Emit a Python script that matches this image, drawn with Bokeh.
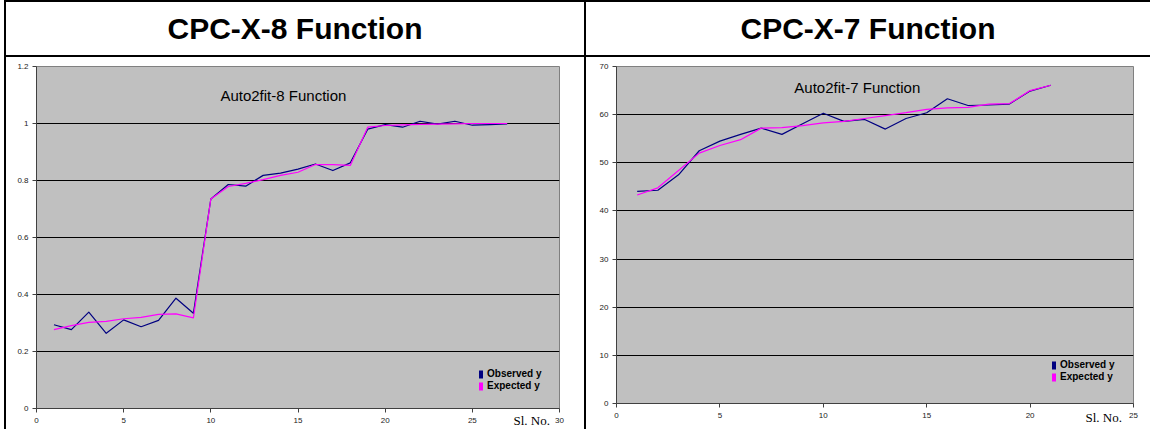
from bokeh.plotting import figure
from bokeh.models import Div, Spacer, Label, Legend, LegendItem, FixedTicker, NumeralTickFormatter
from bokeh.layouts import row, column
from bokeh.embed import file_html
from bokeh.resources import INLINE

# ---------------- data ----------------
titles = ["CPC-X-8 Function", "CPC-X-7 Function"]
subtitles = ["Auto2fit-8 Function", "Auto2fit-7 Function"]
series_names = ["Observed y", "Expected y"]
x_label = "Sl. No."

x8 = list(range(1, 28))
obs8 = [0.294, 0.277, 0.338, 0.264, 0.311, 0.287, 0.309, 0.387, 0.334, 0.735,
        0.786, 0.780, 0.818, 0.826, 0.840, 0.858, 0.835, 0.862, 0.980, 0.996,
        0.987, 1.008, 0.998, 1.008, 0.994, 0.996, 0.999]
exp8 = [0.277, 0.291, 0.302, 0.306, 0.315, 0.320, 0.330, 0.332, 0.318, 0.735,
        0.779, 0.790, 0.803, 0.818, 0.829, 0.856, 0.856, 0.853, 0.987, 0.993,
        0.995, 0.997, 0.998, 0.999, 1.000, 1.000, 1.000]
xticks8 = [0, 5, 10, 15, 20, 25, 30]
yticks8 = [0, 0.2, 0.4, 0.6, 0.8, 1, 1.2]

x7 = list(range(1, 22))
obs7 = [44.06, 44.3, 47.5, 52.5, 54.5, 55.9, 57.2, 55.9, 58.1, 60.3, 58.6,
        59.0, 57.0, 59.2, 60.4, 63.3, 61.9, 62.0, 62.2, 64.9, 66.1]
exp7 = [43.3, 44.8, 48.4, 52.0, 53.6, 54.8, 57.2, 57.3, 57.7, 58.3, 58.6,
        59.2, 59.8, 60.4, 61.1, 61.4, 61.5, 62.2, 62.3, 65.0, 66.1]
xticks7 = [0, 5, 10, 15, 20, 25]
yticks7 = [0, 10, 20, 30, 40, 50, 60, 70]

OBS_COLOR = "#000080"
EXP_COLOR = "#FF00FF"
SANS = "Liberation Sans"
NAN = float("nan")


def make_chart(x, obs, exp, xticks, yticks, subtitle, fw, fh, mb, sub_pos, leg_loc):
    p = figure(frame_width=fw, frame_height=fh,
               x_range=(xticks[0], xticks[-1]), y_range=(yticks[0], yticks[-1]),
               output_backend="svg", toolbar_location=None,
               min_border_left=mb[0], min_border_right=mb[1],
               min_border_top=mb[2], min_border_bottom=mb[3],
               background_fill_color="#C0C0C0", border_fill_color="white",
               outline_line_color="#808080", margin=0)
    for ax in (p.xaxis[0], p.yaxis[0]):
        ax.minor_tick_line_color = None
        ax.major_tick_out = 4
        ax.major_tick_in = 0
        ax.axis_line_color = "#404040"
        ax.major_tick_line_color = "#404040"
        ax.major_label_text_font = SANS
        ax.major_label_text_font_size = "8px"
        ax.major_label_text_color = "#222222"
    p.xaxis.ticker = FixedTicker(ticks=xticks)
    p.yaxis.ticker = FixedTicker(ticks=yticks)
    p.yaxis.formatter = NumeralTickFormatter(format="0.[0]")
    p.xaxis.major_label_standoff = 5
    p.yaxis.major_label_standoff = 4
    p.xgrid.visible = False
    p.ygrid.ticker = FixedTicker(ticks=yticks)
    p.ygrid.grid_line_color = "black"
    p.ygrid.grid_line_width = 1

    p.line(x, obs, line_color=OBS_COLOR, line_width=1.2, line_join="round")
    p.line(x, exp, line_color=EXP_COLOR, line_width=1.2, line_join="round")

    # legend swatches (no visible data of their own)
    q1 = p.quad(left=[NAN], right=[NAN], top=[NAN], bottom=[NAN],
                fill_color=OBS_COLOR, line_color=None)
    q2 = p.quad(left=[NAN], right=[NAN], top=[NAN], bottom=[NAN],
                fill_color=EXP_COLOR, line_color=None)
    leg = Legend(items=[LegendItem(label=series_names[0], renderers=[q1]),
                        LegendItem(label=series_names[1], renderers=[q2])],
                 location=leg_loc, glyph_width=5, glyph_height=10,
                 label_text_font=SANS, label_text_font_size="10px",
                 label_text_font_style="bold", label_text_color="black",
                 label_height=10, background_fill_alpha=0, border_line_color=None,
                 padding=0, spacing=1, label_standoff=4, margin=0)
    p.add_layout(leg)

    p.add_layout(Label(x=sub_pos[0], y=sub_pos[1], text=subtitle,
                       text_font=SANS, text_font_size="15px", text_color="black",
                       text_baseline="alphabetic"))
    return p


fig8 = make_chart(x8, obs8, exp8, xticks8, yticks8, subtitles[0],
                  523, 342, (30, 25, 8, 21), (10.55, 1.098), (442, 17))
fig7 = make_chart(x7, obs7, exp7, xticks7, yticks7, subtitles[1],
                  517, 337, (30, 17, 8, 26), (8.6, 65.6), (435, 21))

hdr_style = ("position:absolute;top:12px;text-align:center;font-weight:bold;"
             "font-size:30px;line-height:34px;color:#000;white-space:nowrap;")
header_html = f'''<div style="position:relative;width:1150px;height:58px;font-family:'Liberation Sans',Arial,sans-serif;">
<div style="position:absolute;left:4px;top:0px;width:1146px;height:2px;background:#000;"></div>
<div style="position:absolute;left:4px;top:55px;width:1146px;height:2px;background:#000;"></div>
<div style="position:absolute;left:4px;top:0px;width:2px;height:58px;background:#000;"></div>
<div style="position:absolute;left:584px;top:0px;width:2px;height:58px;background:#000;"></div>
<div style="{hdr_style}left:6px;width:578px;">{titles[0]}</div>
<div style="{hdr_style}left:586px;width:564px;">{titles[1]}</div>
</div>'''
header = Div(text=header_html, width=1150, height=58, margin=0)


def vline(h):
    return Div(text=f'<div style="width:2px;height:{h}px;background:#000;"></div>',
               width=2, height=h, margin=0)


lbl_style = ("position:absolute;white-space:nowrap;font-family:'Liberation Serif',serif;"
             "font-size:13px;line-height:13px;color:#000;")
overlay_html = f'''<div style="position:relative;width:0px;height:0px;overflow:visible;">
<span style="{lbl_style}right:600px;top:344px;">{x_label}</span>
<span style="{lbl_style}right:28px;top:341px;">{x_label}</span>
</div>'''
overlay = Div(text=overlay_html, width=0, height=371, margin=0,
              styles={"overflow": "visible", "z-index": "10"})

charts = row(Spacer(width=4, height=371, margin=0), vline(371), fig8, vline(371), fig7,
             overlay, spacing=0, margin=0)
root = column(header, charts, spacing=0, margin=0)

open("out.html", "w").write(file_html(root, INLINE))
